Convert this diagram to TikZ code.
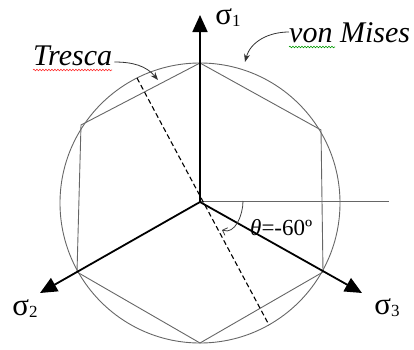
\documentclass[tikz,border=0pt]{standalone}
\usepackage{fontspec}
\setmainfont{Liberation Serif}
\usetikzlibrary{arrows.meta,decorations.pathmorphing}
\begin{document}
\begin{tikzpicture}[x=1pt,y=1pt,
  axisline/.style={line width=1.8pt, -{Triangle[length=17pt,width=15pt]}},
  outline/.style={draw=black!60, line width=0.9pt},
  siglbl/.style={inner sep=0pt, font=\fontsize{31}{33}\selectfont},
  txtlbl/.style={inner sep=0pt, anchor=base west, font=\fontsize{30}{32}\selectfont\itshape},
  notearrow/.style={-{Stealth[length=8pt,width=6pt]}, line width=0.8pt, black!80},
  wavy/.style={decorate, decoration={snake, segment length=3pt, amplitude=0.8pt}, line width=0.6pt}
]
\useasboundingbox (0,0) rectangle (414,349);
% centre and hexagon vertices
\coordinate (O) at (200,147);
\coordinate (C) at (200,146);
\coordinate (V1) at (200,286);
\coordinate (V2) at (81,224);
\coordinate (V3) at (77,77);
\coordinate (V4) at (200,6);
\coordinate (V5) at (323,77);
\coordinate (V6) at (321,219);
% von Mises circle and Tresca hexagon
\draw[outline] (C) circle[radius=140pt];
\draw[outline] (V1) -- (V2) -- (V3) -- (V4) -- (V5) -- (V6) -- cycle;
% horizontal reference line
\coordinate (H) at (389,148);
\draw[outline, line width=0.8pt] (200,148) -- (H);
% dashed line at theta = -60
\coordinate (D1) at (137,271);
\coordinate (D2) at (269,24);
\draw[dashed, dash pattern=on 5pt off 3pt, line width=1.1pt] (D1) -- (D2);
% axes
\coordinate (T1) at (200,334);
\coordinate (T2) at (40,56);
\coordinate (T3) at (362,56);
\draw[axisline] (O) -- (T1);
\draw[axisline] (O) -- (T2);
\draw[axisline] (O) -- (T3);
\node[siglbl] (s1) at (228,331) {σ\raisebox{-2pt}{\fontsize{17}{17}\selectfont 1}};
\node[siglbl] (s2) at (25,40) {σ\raisebox{-2pt}{\fontsize{17}{17}\selectfont 2}};
\node[siglbl] (s3) at (387,41) {σ\raisebox{-2pt}{\fontsize{17}{17}\selectfont 3}};
% theta arc
\coordinate (A0) at (243,148);
\coordinate (A1) at (222,119);
\draw[line width=0.8pt, black!75, -{Straight Barb[length=4pt,width=8pt]}] (A0) to[out=-90,in=-20] (A1);
\node[inner sep=0pt, anchor=base west, font=\fontsize{23}{25}\selectfont] (th) at (250,114) {\textit{θ}=-60º};
% labels
\node[txtlbl] (tr) at (33,284) {Tresca};
\node[txtlbl] (vm) at (289,307) {von Mises};
\draw[wavy, red!80] (tr.base west) ++(0,-5) -- ++(79,0);
\draw[wavy, green!60!black] (vm.base west) ++(0,-5) -- ++(46,0);
\coordinate (TA) at (158,269);
\coordinate (VA) at (245,287);
\draw[notearrow] (tr.base east) ++(2,3) to[out=0,in=130] (TA);
\draw[notearrow] (vm.base west) ++(0,10) to[out=180,in=75] (VA);
\end{tikzpicture}
\end{document}
